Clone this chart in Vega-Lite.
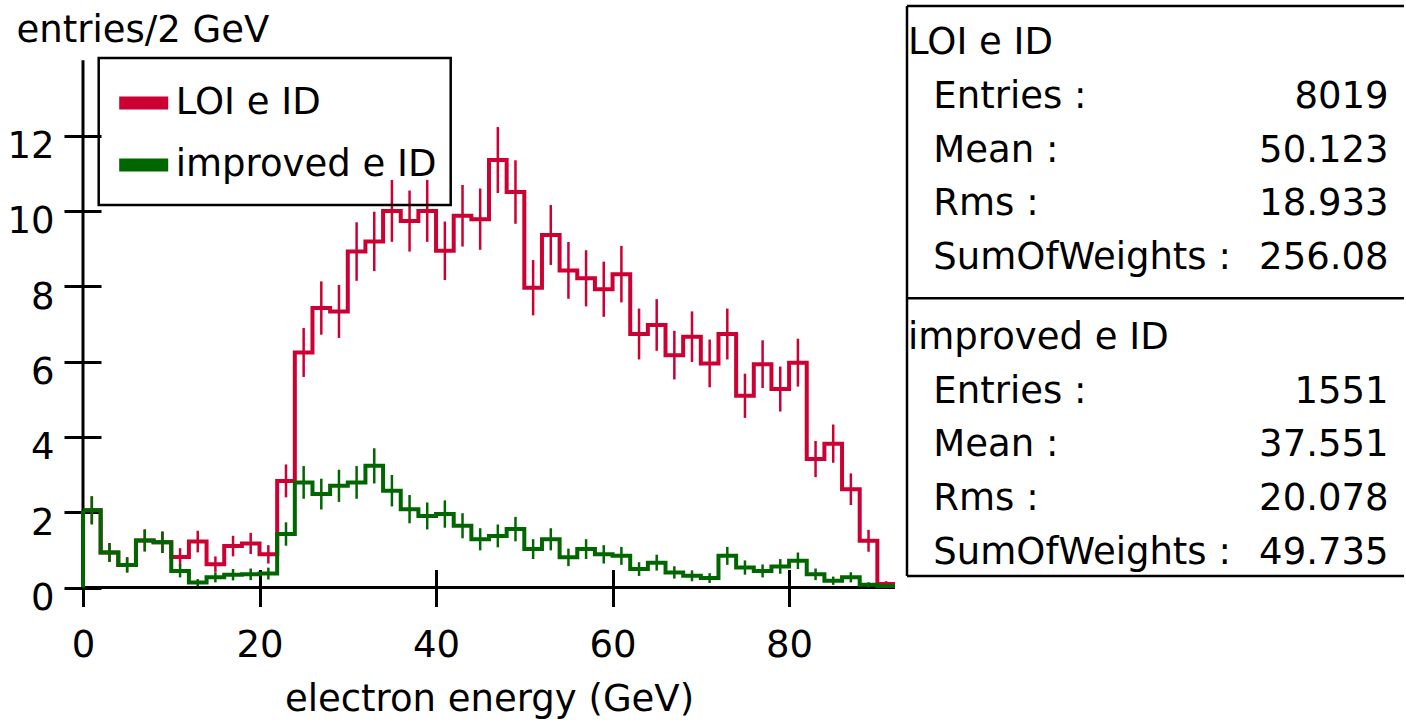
{
  "$schema": "https://vega.github.io/schema/vega-lite/v6.json",
  "padding": {"left": 6, "top": 4, "right": 0, "bottom": 3},
  "config": {"view": {"stroke": null}, "font": "DejaVu Sans", "legend": {"strokeWidth": 2.5}},
  "spacing": 2,
  "datasets": {
    "hist": [
      {"s":"LOI e ID","lo":0,"hi":2,"c":1,"n":2.05,"e":0.372},
      {"s":"LOI e ID","lo":2,"hi":4,"c":3,"n":0.93,"e":0.251},
      {"s":"LOI e ID","lo":4,"hi":6,"c":5,"n":0.6,"e":0.201},
      {"s":"LOI e ID","lo":6,"hi":8,"c":7,"n":1.25,"e":0.291},
      {"s":"LOI e ID","lo":8,"hi":10,"c":9,"n":1.2,"e":0.285},
      {"s":"LOI e ID","lo":10,"hi":12,"c":11,"n":0.81,"e":0.234},
      {"s":"LOI e ID","lo":12,"hi":14,"c":13,"n":1.22,"e":0.287},
      {"s":"LOI e ID","lo":14,"hi":16,"c":15,"n":0.62,"e":0.205},
      {"s":"LOI e ID","lo":16,"hi":18,"c":17,"n":1.1,"e":0.273},
      {"s":"LOI e ID","lo":18,"hi":20,"c":19,"n":1.17,"e":0.281},
      {"s":"LOI e ID","lo":20,"hi":22,"c":21,"n":0.88,"e":0.244},
      {"s":"LOI e ID","lo":22,"hi":24,"c":23,"n":2.83,"e":0.437},
      {"s":"LOI e ID","lo":24,"hi":26,"c":25,"n":6.24,"e":0.649},
      {"s":"LOI e ID","lo":26,"hi":28,"c":27,"n":7.42,"e":0.708},
      {"s":"LOI e ID","lo":28,"hi":30,"c":29,"n":7.33,"e":0.704},
      {"s":"LOI e ID","lo":30,"hi":32,"c":31,"n":8.92,"e":0.777},
      {"s":"LOI e ID","lo":32,"hi":34,"c":33,"n":9.19,"e":0.788},
      {"s":"LOI e ID","lo":34,"hi":36,"c":35,"n":10.0,"e":0.822},
      {"s":"LOI e ID","lo":36,"hi":38,"c":37,"n":9.73,"e":0.811},
      {"s":"LOI e ID","lo":38,"hi":40,"c":39,"n":10.0,"e":0.822},
      {"s":"LOI e ID","lo":40,"hi":42,"c":41,"n":8.94,"e":0.777},
      {"s":"LOI e ID","lo":42,"hi":44,"c":43,"n":9.87,"e":0.817},
      {"s":"LOI e ID","lo":44,"hi":46,"c":45,"n":9.78,"e":0.813},
      {"s":"LOI e ID","lo":46,"hi":48,"c":47,"n":11.35,"e":0.876},
      {"s":"LOI e ID","lo":48,"hi":50,"c":49,"n":10.5,"e":0.843},
      {"s":"LOI e ID","lo":50,"hi":52,"c":51,"n":7.96,"e":0.734},
      {"s":"LOI e ID","lo":52,"hi":54,"c":53,"n":9.36,"e":0.795},
      {"s":"LOI e ID","lo":54,"hi":56,"c":55,"n":8.42,"e":0.754},
      {"s":"LOI e ID","lo":56,"hi":58,"c":57,"n":8.21,"e":0.745},
      {"s":"LOI e ID","lo":58,"hi":60,"c":59,"n":7.92,"e":0.732},
      {"s":"LOI e ID","lo":60,"hi":62,"c":61,"n":8.32,"e":0.75},
      {"s":"LOI e ID","lo":62,"hi":64,"c":63,"n":6.73,"e":0.675},
      {"s":"LOI e ID","lo":64,"hi":66,"c":65,"n":6.97,"e":0.686},
      {"s":"LOI e ID","lo":66,"hi":68,"c":67,"n":6.17,"e":0.646},
      {"s":"LOI e ID","lo":68,"hi":70,"c":69,"n":6.66,"e":0.671},
      {"s":"LOI e ID","lo":70,"hi":72,"c":71,"n":5.95,"e":0.634},
      {"s":"LOI e ID","lo":72,"hi":74,"c":73,"n":6.73,"e":0.675},
      {"s":"LOI e ID","lo":74,"hi":76,"c":75,"n":5.09,"e":0.587},
      {"s":"LOI e ID","lo":76,"hi":78,"c":77,"n":5.93,"e":0.633},
      {"s":"LOI e ID","lo":78,"hi":80,"c":79,"n":5.27,"e":0.597},
      {"s":"LOI e ID","lo":80,"hi":82,"c":81,"n":5.97,"e":0.635},
      {"s":"LOI e ID","lo":82,"hi":84,"c":83,"n":3.41,"e":0.48},
      {"s":"LOI e ID","lo":84,"hi":86,"c":85,"n":3.82,"e":0.508},
      {"s":"LOI e ID","lo":86,"hi":88,"c":87,"n":2.61,"e":0.42},
      {"s":"LOI e ID","lo":88,"hi":90,"c":89,"n":1.24,"e":0.29},
      {"s":"LOI e ID","lo":90,"hi":92,"c":91,"n":0.09,"e":0.078},
      {"s":"improved e ID","lo":0,"hi":2,"c":1,"n":2.05,"e":0.372},
      {"s":"improved e ID","lo":2,"hi":4,"c":3,"n":0.93,"e":0.251},
      {"s":"improved e ID","lo":4,"hi":6,"c":5,"n":0.6,"e":0.201},
      {"s":"improved e ID","lo":6,"hi":8,"c":7,"n":1.25,"e":0.291},
      {"s":"improved e ID","lo":8,"hi":10,"c":9,"n":1.2,"e":0.285},
      {"s":"improved e ID","lo":10,"hi":12,"c":11,"n":0.44,"e":0.172},
      {"s":"improved e ID","lo":12,"hi":14,"c":13,"n":0.13,"e":0.094},
      {"s":"improved e ID","lo":14,"hi":16,"c":15,"n":0.27,"e":0.135},
      {"s":"improved e ID","lo":16,"hi":18,"c":17,"n":0.34,"e":0.152},
      {"s":"improved e ID","lo":18,"hi":20,"c":19,"n":0.35,"e":0.154},
      {"s":"improved e ID","lo":20,"hi":22,"c":21,"n":0.37,"e":0.158},
      {"s":"improved e ID","lo":22,"hi":24,"c":23,"n":1.42,"e":0.31},
      {"s":"improved e ID","lo":24,"hi":26,"c":25,"n":2.79,"e":0.434},
      {"s":"improved e ID","lo":26,"hi":28,"c":27,"n":2.48,"e":0.409},
      {"s":"improved e ID","lo":28,"hi":30,"c":29,"n":2.7,"e":0.427},
      {"s":"improved e ID","lo":30,"hi":32,"c":31,"n":2.79,"e":0.434},
      {"s":"improved e ID","lo":32,"hi":34,"c":33,"n":3.23,"e":0.467},
      {"s":"improved e ID","lo":34,"hi":36,"c":35,"n":2.57,"e":0.417},
      {"s":"improved e ID","lo":36,"hi":38,"c":37,"n":2.08,"e":0.375},
      {"s":"improved e ID","lo":38,"hi":40,"c":39,"n":1.9,"e":0.358},
      {"s":"improved e ID","lo":40,"hi":42,"c":41,"n":1.95,"e":0.363},
      {"s":"improved e ID","lo":42,"hi":44,"c":43,"n":1.64,"e":0.333},
      {"s":"improved e ID","lo":44,"hi":46,"c":45,"n":1.28,"e":0.294},
      {"s":"improved e ID","lo":46,"hi":48,"c":47,"n":1.37,"e":0.304},
      {"s":"improved e ID","lo":48,"hi":50,"c":49,"n":1.55,"e":0.324},
      {"s":"improved e ID","lo":50,"hi":52,"c":51,"n":1.02,"e":0.263},
      {"s":"improved e ID","lo":52,"hi":54,"c":53,"n":1.28,"e":0.294},
      {"s":"improved e ID","lo":54,"hi":56,"c":55,"n":0.8,"e":0.233},
      {"s":"improved e ID","lo":56,"hi":58,"c":57,"n":1.02,"e":0.263},
      {"s":"improved e ID","lo":58,"hi":60,"c":59,"n":0.88,"e":0.244},
      {"s":"improved e ID","lo":60,"hi":62,"c":61,"n":0.84,"e":0.238},
      {"s":"improved e ID","lo":62,"hi":64,"c":63,"n":0.49,"e":0.182},
      {"s":"improved e ID","lo":64,"hi":66,"c":65,"n":0.66,"e":0.211},
      {"s":"improved e ID","lo":66,"hi":68,"c":67,"n":0.4,"e":0.164},
      {"s":"improved e ID","lo":68,"hi":70,"c":69,"n":0.31,"e":0.145},
      {"s":"improved e ID","lo":70,"hi":72,"c":71,"n":0.25,"e":0.13},
      {"s":"improved e ID","lo":72,"hi":74,"c":73,"n":0.84,"e":0.238},
      {"s":"improved e ID","lo":74,"hi":76,"c":75,"n":0.53,"e":0.189},
      {"s":"improved e ID","lo":76,"hi":78,"c":77,"n":0.44,"e":0.172},
      {"s":"improved e ID","lo":78,"hi":80,"c":79,"n":0.56,"e":0.195},
      {"s":"improved e ID","lo":80,"hi":82,"c":81,"n":0.71,"e":0.219},
      {"s":"improved e ID","lo":82,"hi":84,"c":83,"n":0.35,"e":0.154},
      {"s":"improved e ID","lo":84,"hi":86,"c":85,"n":0.18,"e":0.11},
      {"s":"improved e ID","lo":86,"hi":88,"c":87,"n":0.27,"e":0.135},
      {"s":"improved e ID","lo":88,"hi":90,"c":89,"n":0.07,"e":0.069},
      {"s":"improved e ID","lo":90,"hi":92,"c":91,"n":0.04,"e":0.052}
    ],
    "stats": [
      {"kind":"head","line":1,"name":"LOI e ID","value":""},
      {"kind":"row","line":2,"name":"Entries :","value":"8019"},
      {"kind":"row","line":3,"name":"Mean :","value":"50.123"},
      {"kind":"row","line":4,"name":"Rms :","value":"18.933"},
      {"kind":"row","line":5,"name":"SumOfWeights :","value":"256.08"},
      {"kind":"head","line":6.5,"name":"improved e ID","value":""},
      {"kind":"row","line":7.5,"name":"Entries :","value":"1551"},
      {"kind":"row","line":8.5,"name":"Mean :","value":"37.551"},
      {"kind":"row","line":9.5,"name":"Rms :","value":"20.078"},
      {"kind":"row","line":10.5,"name":"SumOfWeights :","value":"49.735"}
    ]
  },
  "hconcat": [
    {
      "width": 812,
      "height": 581.5,
      "data": {"name": "hist"},
      "layer": [
        {
          "transform": [{"filter": "datum.s == 'LOI e ID'"}, {"fold": ["lo", "hi"], "as": ["edge", "ex"]}],
          "mark": {"type": "line", "strokeWidth": 4, "strokeJoin": "miter"},
          "encoding": {
            "x": {"field": "ex", "type": "quantitative", "scale": {"domain": [0, 92], "nice": false, "zero": false},
              "axis": {"orient": "bottom", "offset": -18, "tickSize": 37, "tickWidth": 3, "tickColor": "black", "domain": false, "grid": false,
                "values": [0, 20, 40, 60, 80], "labelFontSize": 37, "labelFont": "DejaVu Sans", "labelColor": "black", "labelPadding": 21,
                "labelFlush": false, "labelOverlap": false, "title": "electron energy (GeV)", "titleFont": "DejaVu Sans", "titleFontSize": 37,
                "titleFontWeight": "normal", "titleColor": "black", "titlePadding": 18}},
            "y": {"field": "n", "type": "quantitative", "scale": {"domain": [0, 15.44], "nice": false},
              "axis": {"orient": "left", "offset": -18, "tickSize": 37, "tickWidth": 3, "tickColor": "black", "domain": false, "grid": false,
                "values": [0, 2, 4, 6, 8, 10, 12], "labelFontSize": 37, "labelFont": "DejaVu Sans", "labelColor": "black", "labelPadding": 10,
                "labelBaseline": "alphabetic", "labelOffset": 22, "labelOverlap": false,
                "title": "entries/2 GeV", "titleFont": "DejaVu Sans", "titleFontSize": 37, "titleFontWeight": "normal", "titleColor": "black",
                "titleAngle": 0, "titleAlign": "left", "titleBaseline": "alphabetic", "titleX": -85, "titleY": 35.5}},
            "order": [{"field": "ex", "type": "quantitative"}, {"field": "edge", "type": "nominal"}],
            "color": {"field": "s", "type": "nominal",
              "scale": {"domain": ["LOI e ID", "improved e ID"], "range": ["#cc0033", "#006600"]},
              "legend": {"orient": "none", "legendX": 15.7, "legendY": 52, "direction": "vertical", "title": null, "symbolType": "stroke",
                "symbolSize": 2401, "symbolStrokeWidth": 13, "labelFontSize": 37, "labelFont": "DejaVu Sans", "labelColor": "black", "labelLimit": 600,
                "labelOffset": 1, "padding": 14, "rowPadding": 5, "strokeColor": "black", "labelBaseline": "middle"}}
          }
        },
        {
          "data": {"values": [{}]},
          "mark": {"type": "rule", "color": "black", "strokeWidth": 3},
          "encoding": {"y": {"datum": 0, "type": "quantitative", "title": "entries/2 GeV"}}
        },
        {
          "data": {"values": [{}]},
          "mark": {"type": "rule", "color": "black", "strokeWidth": 3},
          "encoding": {"x": {"datum": 0, "type": "quantitative", "title": "electron energy (GeV)"}, "y": {"datum": 0, "type": "quantitative", "title": "entries/2 GeV"}, "y2": {"datum": 14}}
        },
        {
          "transform": [{"filter": "datum.s == 'LOI e ID'"}],
          "mark": {"type": "errorbar", "color": "#cc0033", "thickness": 2.5},
          "encoding": {
            "x": {"field": "c", "type": "quantitative", "title": "electron energy (GeV)"},
            "y": {"field": "n", "type": "quantitative", "title": "entries/2 GeV"},
            "yError": {"field": "e"}
          }
        },
        {
          "transform": [{"filter": "datum.s == 'improved e ID'"}, {"fold": ["lo", "hi"], "as": ["edge", "ex"]}],
          "mark": {"type": "line", "strokeWidth": 4, "strokeJoin": "miter"},
          "encoding": {
            "x": {"field": "ex", "type": "quantitative", "title": "electron energy (GeV)"},
            "y": {"field": "n", "type": "quantitative", "title": "entries/2 GeV"},
            "order": [{"field": "ex", "type": "quantitative"}, {"field": "edge", "type": "nominal"}],
            "color": {"field": "s", "type": "nominal"}
          }
        },
        {
          "transform": [{"filter": "datum.s == 'improved e ID'"}],
          "mark": {"type": "errorbar", "color": "#006600", "thickness": 2.5},
          "encoding": {
            "x": {"field": "c", "type": "quantitative", "title": "electron energy (GeV)"},
            "y": {"field": "n", "type": "quantitative", "title": "entries/2 GeV"},
            "yError": {"field": "e"}
          }
        },
        {
          "transform": [{"filter": "datum.s == 'improved e ID' && datum.lo == 0"}],
          "mark": {"type": "rule", "color": "#006600", "strokeWidth": 4},
          "encoding": {
            "x": {"field": "lo", "type": "quantitative", "title": "electron energy (GeV)"},
            "y": {"field": "n", "type": "quantitative", "title": "entries/2 GeV"},
            "y2": {"datum": 0}
          }
        }
      ]
    },
    {
      "width": 497,
      "height": 570,
      "data": {"name": "stats"},
      "layer": [
        {
          "transform": [{"filter": "datum.kind == 'head'"}],
          "mark": {"type": "text", "align": "left", "baseline": "alphabetic", "fontSize": 37, "font": "DejaVu Sans", "color": "black"},
          "encoding": {
            "x": {"datum": 0.002, "type": "quantitative", "scale": {"domain": [0, 1], "nice": false, "zero": false}, "axis": null},
            "y": {"field": "line", "type": "quantitative", "scale": {"domain": [0.1, 10.73], "nice": false, "zero": false, "reverse": true}, "axis": null},
            "text": {"field": "name"}
          }
        },
        {
          "transform": [{"filter": "datum.kind == 'row'"}],
          "mark": {"type": "text", "align": "left", "baseline": "alphabetic", "fontSize": 37, "font": "DejaVu Sans", "color": "black"},
          "encoding": {
            "x": {"datum": 0.053, "type": "quantitative", "axis": null},
            "y": {"field": "line", "type": "quantitative", "axis": null},
            "text": {"field": "name"}
          }
        },
        {
          "transform": [{"filter": "datum.kind == 'row'"}],
          "mark": {"type": "text", "align": "right", "baseline": "alphabetic", "fontSize": 37, "font": "DejaVu Sans", "color": "black"},
          "encoding": {
            "x": {"datum": 0.969, "type": "quantitative", "axis": null},
            "y": {"field": "line", "type": "quantitative", "axis": null},
            "text": {"field": "value"}
          }
        },
        {
          "data": {"values": [{}]},
          "mark": {"type": "rule", "color": "black", "strokeWidth": 2.5},
          "encoding": {"y": {"datum": 0.1, "type": "quantitative", "axis": null}}
        },
        {
          "data": {"values": [{}]},
          "mark": {"type": "rule", "color": "black", "strokeWidth": 2.5},
          "encoding": {"y": {"datum": 10.73, "type": "quantitative", "axis": null}}
        },
        {
          "data": {"values": [{}]},
          "mark": {"type": "rule", "color": "black", "strokeWidth": 2.5},
          "encoding": {"y": {"datum": 5.55, "type": "quantitative", "axis": null}}
        },
        {
          "data": {"values": [{}]},
          "mark": {"type": "rule", "color": "black", "strokeWidth": 2.5},
          "encoding": {"x": {"datum": 0, "type": "quantitative", "axis": null}}
        }
      ]
    }
  ]
}
